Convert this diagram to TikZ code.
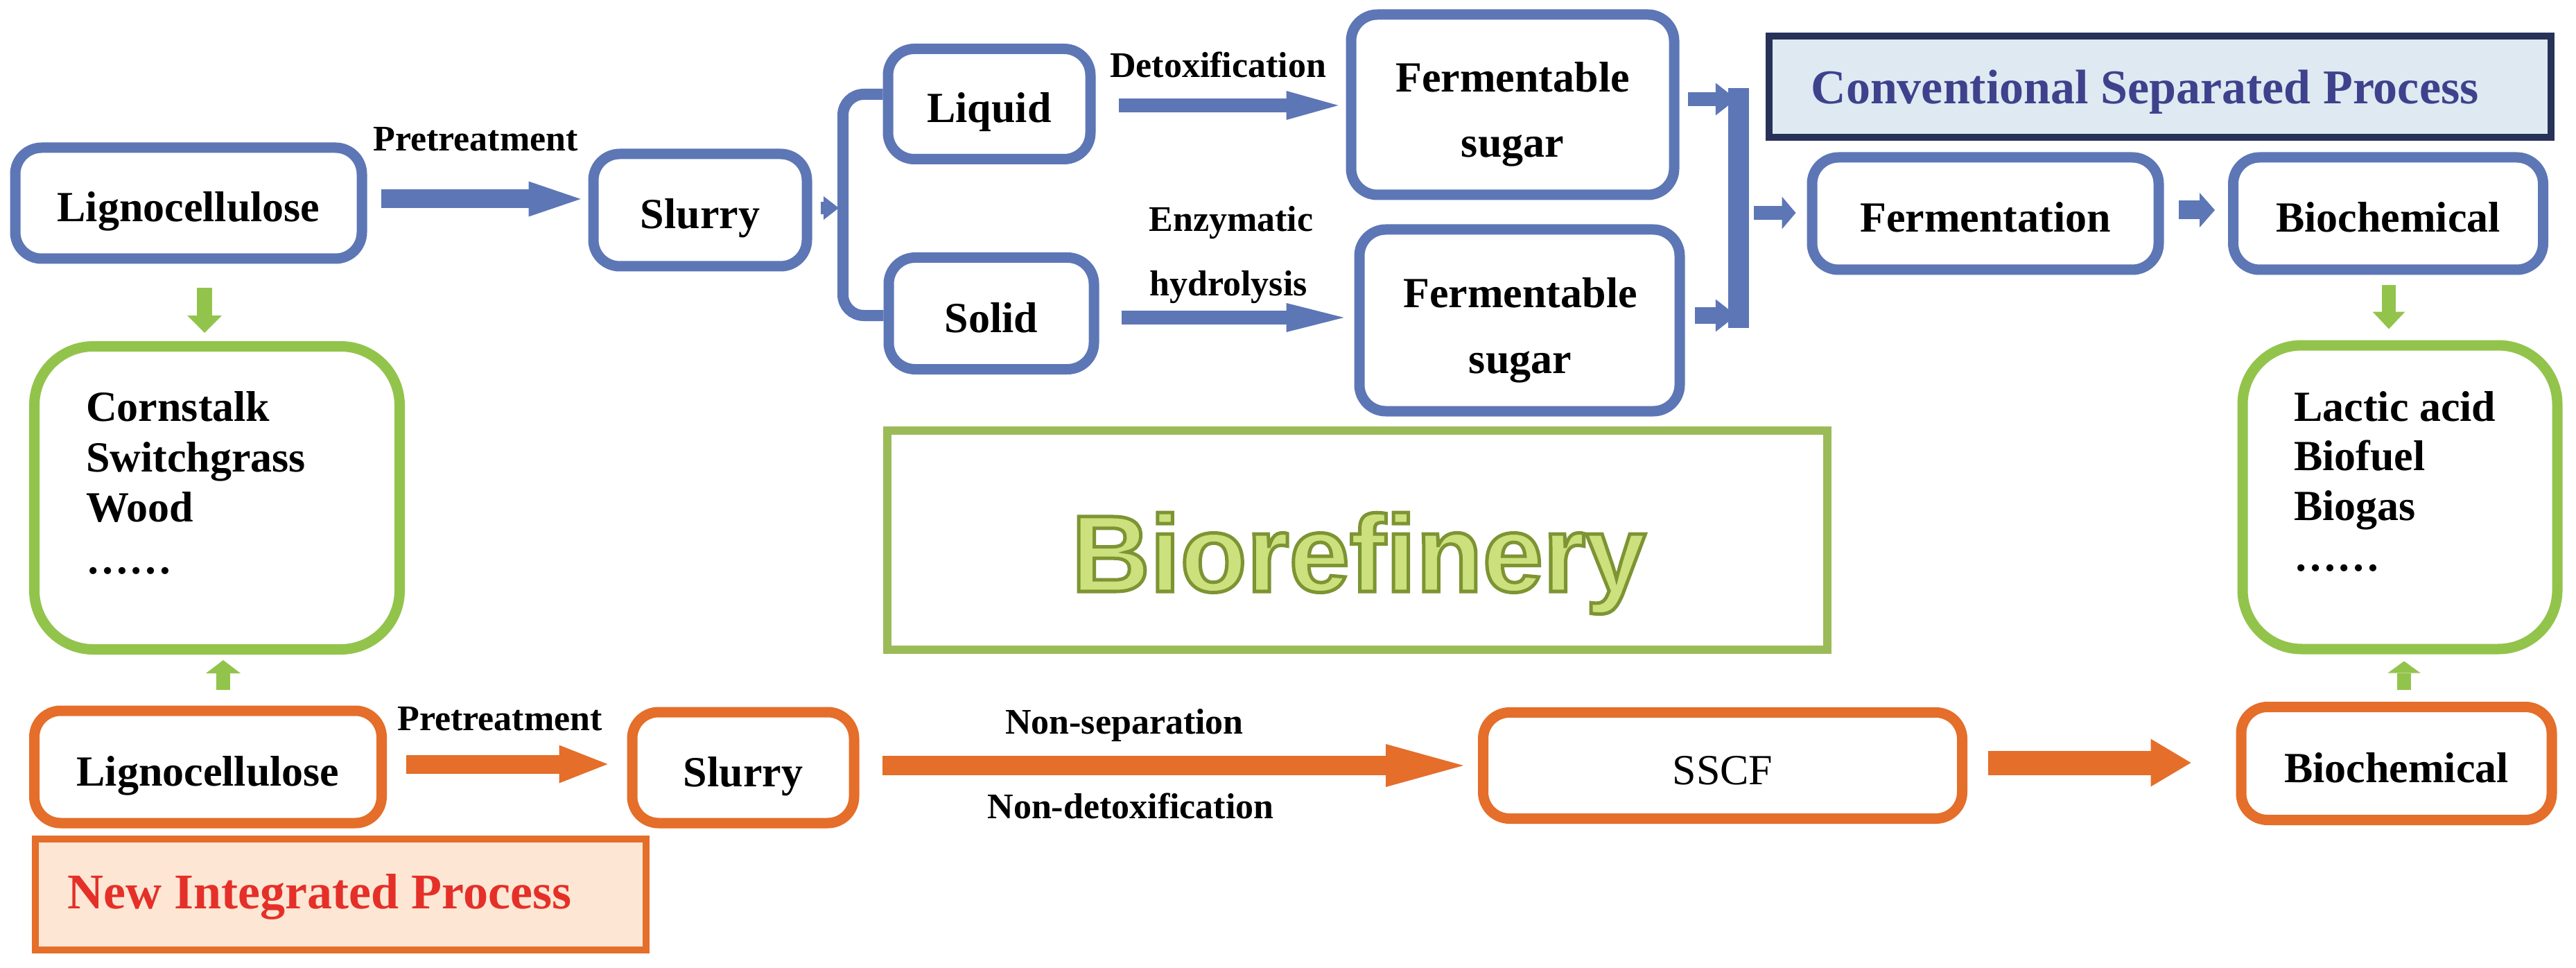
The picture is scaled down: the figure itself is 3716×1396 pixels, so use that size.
\documentclass[tikz,border=0pt]{standalone}
\usepackage{fontspec}
\setmainfont{Liberation Serif}
\newfontfamily\biofont{Liberation Sans}
\usetikzlibrary{arrows.meta,calc}
\definecolor{bluec}{RGB}{93,118,181}
\definecolor{orangec}{RGB}{228,110,42}
\definecolor{greenc}{RGB}{146,196,76}
\definecolor{olivec}{RGB}{155,187,89}
\definecolor{navyc}{RGB}{40,50,88}
\definecolor{convfill}{RGB}{222,233,242}
\definecolor{convtext}{RGB}{62,66,140}
\definecolor{newfill}{RGB}{253,230,212}
\definecolor{newtext}{RGB}{228,48,40}
\definecolor{biofill}{RGB}{204,224,125}
\definecolor{bioedge}{RGB}{125,148,50}
\definecolor{bioshadow}{RGB}{150,165,95}
\newcommand{\outlinetext}[1]{\special{pdf:literal direct 2 Tr 5 w 0.49 0.58 0.2 RG}#1\special{pdf:literal direct 0 Tr}}
\tikzset{
  box/.style={rectangle, rounded corners=38pt, line width=15pt, fill=white, inner sep=0pt,
    text height=60pt, text depth=6pt, font=\fontsize{62}{72}\selectfont\bfseries},
  bbox/.style={box, draw=bluec},
  obox/.style={box, draw=orangec},
  gbox/.style={box, draw=greenc, rounded corners=85pt},
  sz/.style 2 args={minimum width=#1pt, minimum height=#2pt},
  lbl/.style={inner sep=0pt, anchor=base, font=\fontsize{52}{60}\selectfont\bfseries},
  lst/.style={inner sep=0pt, anchor=base west, font=\fontsize{62}{72}\selectfont\bfseries},
  txt/.style={inner sep=0pt, anchor=base, font=\fontsize{62}{72}\selectfont\bfseries},
  biot/.style={inner sep=0pt, anchor=base, font=\fontsize{157}{170}\selectfont\biofont\bfseries},
  fat/.style n args={4}{draw=#1, line width=#2pt, -{Triangle[width=#3pt, length=#4pt, line width=0pt]}},
}
\begin{document}
\begin{tikzpicture}[x=1pt,y=-1pt]
\useasboundingbox (0,0) rectangle (3716,1396);
\fill[white] (0,0) rectangle (3716,1396);

% header boxes
\node[draw=navyc, fill=convfill, line width=10pt, inner sep=0pt, sz={1128}{146}] (conv) at (3116,125) {};
\node[inner sep=0pt, anchor=base, text=convtext, font=\fontsize{70}{80}\selectfont\bfseries] (convt) at (3094,150) {Conventional Separated Process};
\node[draw=orangec, fill=newfill, line width=10pt, inner sep=0pt, sz={881}{160}] (newp) at (491,1290) {};
\node[inner sep=0pt, anchor=base, text=newtext, font=\fontsize{72}{80}\selectfont\bfseries] (newt) at (461,1310) {New Integrated Process};

% Biorefinery
\node[draw=olivec, line width=12pt, inner sep=0pt, sz={1356}{316}] (rbox) at (1958,779) {};
\node[biot, text=biofill] (btxt) at (1960,853) {\outlinetext{Biorefinery}};

% blue process
\node[bbox, sz={500}{160}] (bL) at (272,293) {Lignocellulose};
\node[bbox, sz={308}{162}] (bS) at (1010,303) {Slurry};
\node[bbox, sz={292}{159}] (liq) at (1427,150) {Liquid};
\node[bbox, sz={296}{161}] (sol) at (1430,452) {Solid};
\node[bbox, sz={466}{260}] (fs1) at (2182,151) {};
\node[txt] (fs1a) at (2182,133) {Fermentable};
\node[txt] (fs1b) at (2182,227) {sugar};
\node[bbox, sz={462}{262}] (fs2) at (2192,462) {};
\node[txt] (fs2a) at (2193,443) {Fermentable};
\node[txt] (fs2b) at (2193,538) {sugar};
\node[bbox, sz={500}{162}] (fer) at (2864,308) {Fermentation};
\node[bbox, sz={447}{162}] (bio) at (3445,308) {Biochemical};
\coordinate (brk) at (1216,300);
\node[inner sep=0pt, sz={30}{346}] (bar) at (2508,300) {};

% green boxes
\node[gbox, sz={527}{437}] (gL) at (313,718) {};
\node[gbox, sz={454}{438}] (gR) at (3462,717) {};
\node[lst] (l1) at (124,607) {Cornstalk};
\node[lst] (l2) at (124,680) {Switchgrass};
\node[lst] (l3) at (124,752) {Wood};
\node[lst] (l4) at (124,827) {……};
\node[lst] (r1) at (3309,607) {Lactic acid};
\node[lst] (r2) at (3309,678) {Biofuel};
\node[lst] (r3) at (3309,750) {Biogas};
\node[lst] (r4) at (3309,823) {……};

% orange process
\node[obox, sz={501}{162}] (oL) at (300,1106) {Lignocellulose};
\node[obox, sz={320}{160}] (oS) at (1072,1107) {Slurry};
\node[obox, sz={691}{153}, font=\fontsize{62}{72}\selectfont] (sscf) at (2485,1104) {SSCF};
\node[obox, sz={448}{163}] (oB) at (3457,1101) {Biochemical};

% labels
\node[lbl] (pt1) at (686,218) {Pretreatment};
\node[lbl] (detox) at (1757,112) {Detoxification};
\node[lbl] (enz) at (1776,334) {Enzymatic};
\node[lbl] (hyd) at (1772,427) {hydrolysis};
\node[lbl] (pt2) at (721,1053) {Pretreatment};
\node[lbl] (nsep) at (1622,1058) {Non-separation};
\node[lbl] (ndet) at (1631,1180) {Non-detoxification};

% blue connectors
\draw[fat={bluec}{27}{51}{75}] ($(bL.east)+(20,-6)$) -- ($(bL.east -| bS.west)+(-11,-6)$);
\draw[fat={bluec}{18}{34}{22}] ($(bS.east)+(12,-3)$) -- ($(bS.east -| brk)+(-6,-3)$);
\draw[bluec, line width=16pt, rounded corners=30pt] ($(liq.west)+(0,-14)$) -| (brk) |- ($(sol.west)+(0,3)$);
\draw[fat={bluec}{20}{42}{75}] ($(liq.east)+(33,2)$) -- ($(liq.east -| fs1.west)+(-11,2)$);
\draw[fat={bluec}{20}{42}{83}] ($(sol.east)+(32,6)$) -- ($(sol.east -| fs2.west)+(-15,6)$);
\draw[fat={bluec}{20}{47}{30}] ($(fs1.east)+(12,-8)$) -- ($(fs1.east -| bar.west)+(12,-8)$);
\draw[fat={bluec}{24}{47}{30}] ($(fs2.east)+(14,-7)$) -- ($(fs2.east -| bar.west)+(12,-7)$);
\fill[bluec] (bar.south west) rectangle (bar.north east);
\draw[fat={bluec}{20}{47}{20}] ($(bar.east |- fer.west)+(7,-1)$) -- ($(fer.west)+(-16,-1)$);
\draw[fat={bluec}{27}{50}{22}] ($(fer.east)+(21,-5)$) -- ($(fer.east -| bio.west)+(-19,-5)$);

% green connectors
\draw[fat={greenc}{22}{50}{25}] ($(bL.south)+(23,34)$) -- ($(bL.south |- gL.north)+(23,-12)$);
\draw[fat={greenc}{20}{50}{19}] ($(oL.north)+(22,-23)$) -- ($(oL.north |- gL.south)+(22,8)$);
\draw[fat={greenc}{20}{47}{25}] ($(bio.south)+(1,15)$) -- ($(bio.south |- gR.north)+(1,-16)$);
\draw[fat={greenc}{20}{47}{17}] ($(oB.north)+(11,-17)$) -- ($(oB.north |- gR.south)+(11,10)$);

% orange connectors
\draw[fat={orangec}{27}{55}{70}] ($(oL.east)+(28,-4)$) -- ($(oL.east -| oS.west)+(-28,-4)$);
\draw[fat={orangec}{28}{62}{112}] ($(oS.east)+(33,-3)$) -- ($(oS.east -| sscf.west)+(-21,-3)$);
\draw[fat={orangec}{35}{69}{58}] ($(sscf.east)+(30,-4)$) -- ($(sscf.east -| oB.west)+(-65,-4)$);
\end{tikzpicture}
\end{document}
